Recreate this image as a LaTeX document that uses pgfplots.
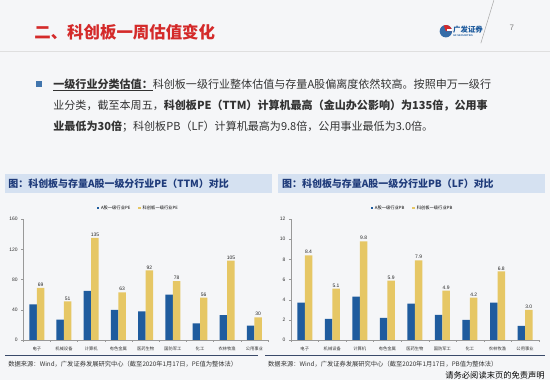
\documentclass[border=0pt]{standalone}
\usepackage{fontspec}
\setmainfont{Noto Sans CJK SC}
\newfontfamily\arialf{Liberation Sans}
\usepackage{pgfplots}
\pgfplotsset{compat=1.18}
\definecolor{bg}{HTML}{F5F6F8}
\definecolor{bblue}{HTML}{1F5C9E}
\definecolor{byel}{HTML}{E6C765}
\definecolor{hred}{HTML}{D42A2A}
\definecolor{capbg}{HTML}{D5E1F1}
\definecolor{captx}{HTML}{1F3B7A}
\definecolor{txt}{HTML}{333333}
\definecolor{srcline}{HTML}{3A4A6A}
\pgfplotsset{
  mybar/.style={
    width=245bp, height=121bp, scale only axis,
    ybar=0pt, bar width=7.5bp,
    xmin=-0.5, xmax=8.5, ymin=0,
    axis x line*=bottom, axis y line*=left,
    axis line style={draw=gray!80, line width=0.4pt},
    xtick={0,...,8},
    xticklabels={电子,机械设备,计算机,有色金属,医药生物,国防军工,化工,农林牧渔,公用事业},
    x tick label style={font=\fontsize{4.3}{5}\selectfont, text=black!80, yshift=-1bp},
    major x tick style={draw=none},
    minor xtick={-0.5,0.5,...,8.5},
    minor x tick style={draw=gray!80, line width=0.3pt},
    minor tick length=2bp,
    tick align=outside,
    major tick length=2bp,
    ytick style={draw=gray!80, line width=0.3pt},
    y tick label style={font=\arialf\fontsize{5}{6}\selectfont, text=black!80},
    /pgf/number format/assume math mode=true,
    legend style={draw=none, fill=none, font=\fontsize{4.3}{5}\selectfont, legend columns=2,
      /tikz/every even column/.append style={column sep=6bp}},
    legend image code/.code={\fill[#1] (0bp,-1.2bp) rectangle (2.4bp,1.2bp);},
    nodes near coords style={font=\arialf\fontsize{5}{6}\selectfont, text=black!85, inner sep=1.2bp},
  }
}
\begin{document}
\begin{tikzpicture}[x=1bp,y=1bp]
\fill[bg] (0,0) rectangle (550,380);
% header
\node[anchor=west, text=hred, font=\bfseries\fontsize{16.5}{17}\selectfont, inner sep=0] at (34,348) {二、科创板一周估值变化};
\draw[gray!25, line width=0.4pt] (0,329) -- (550,329);
% logo
\fill[bblue!90] (446,349) circle (6.2);
\fill[hred] (446,349) ++(0:6.2) arc (0:110:6.2) -- (446,349) -- cycle;
\fill[white] (447,349.5) rectangle (452,351.5);
\node[anchor=west, text=bblue, font=\bfseries\fontsize{7.5}{8}\selectfont, inner sep=0] at (453,351) {广发证券};
\node[anchor=west, text=bblue, font=\arialf\bfseries\fontsize{2.6}{3}\selectfont, inner sep=0] at (453,344.5) {GF SECURITIES};
\draw[gray!70, line width=0.5pt] (481,337) -- (494,380);
\node[text=gray, font=\arialf\fontsize{8}{9}\selectfont] at (512,352) {7};
% bullet
\fill[bblue!85] (36,293) rectangle (42,299);
\begin{scope}[every node/.style={anchor=base west, inner sep=0, text=txt, font=\fontsize{11.1}{12}\selectfont}]
\node at (53,292) {\textbf{\underline{一级行业分类估值：}}科创板一级行业整体估值与存量A股偏离度依然较高。按照申万一级行};
\node at (53,271) {业分类，截至本周五，\textbf{科创板PE（TTM）计算机最高（金山办公影响）为135倍，公用事}};
\node at (53,250) {\textbf{业最低为30倍}；科创板PB（LF）计算机最高为9.8倍，公用事业最低为3.0倍。};
\end{scope}
% caption bands
\fill[capbg] (5,187) rectangle (272,206);
\fill[capbg] (278,187) rectangle (545,206);
\node[anchor=west, text=captx, font=\bfseries\fontsize{10}{11}\selectfont, inner sep=0] at (8,196.5) {图：科创板与存量A股一级分行业PE（TTM）对比};
\node[anchor=west, text=captx, font=\bfseries\fontsize{10}{11}\selectfont, inner sep=0] at (282,196.5) {图：科创板与存量A股一级分行业PB（LF）对比};
% left chart
\begin{axis}[mybar, at={(23bp,40bp)}, anchor=south west,
  ymax=160, ytick={0,40,80,120,160},
  legend style={at={(0.47,1.09)}, anchor=center}]
\addplot[fill=bblue, draw=none] coordinates {(0,47) (1,27) (2,65) (3,40) (4,38) (5,60) (6,22) (7,33) (8,19)};
\addlegendentry{A股一级行业PE}
\addplot[fill=byel, draw=none, nodes near coords] coordinates {(0,69) (1,51) (2,135) (3,63) (4,92) (5,78) (6,56) (7,105) (8,30)};
\addlegendentry{科创板一级行业PE}
\end{axis}
% right chart
\begin{axis}[mybar, at={(291bp,40bp)}, anchor=south west, width=248bp,
  ymax=12, ytick={0,2,...,12},
  legend style={at={(0.49,1.09)}, anchor=center}]
\addplot[fill=bblue, draw=none] coordinates {(0,3.7) (1,2.1) (2,4.3) (3,2.2) (4,3.6) (5,2.5) (6,2.0) (7,3.7) (8,1.4)};
\addlegendentry{A股一级行业PB}
\addplot[fill=byel, draw=none, nodes near coords, point meta=explicit symbolic] coordinates {(0,8.4)[8.4] (1,5.1)[5.1] (2,9.8)[9.8] (3,5.9)[5.9] (4,7.9)[7.9] (5,4.9)[4.9] (6,4.2)[4.2] (7,6.8)[6.8] (8,3.0)[3.0]};
\addlegendentry{科创板一级行业PB}
\end{axis}
% sources
\draw[srcline, line width=0.8pt] (5,25) -- (258,25);
\draw[srcline, line width=0.8pt] (265,25) -- (545,25);
\node[anchor=west, text=txt, font=\fontsize{6.3}{7}\selectfont, inner sep=0] at (8,16) {数据来源：Wind，广发证券发展研究中心（截至2020年1月17日，PE值为整体法）};
\node[anchor=west, text=txt, font=\fontsize{6.3}{7}\selectfont, inner sep=0] at (268,16) {数据来源：Wind，广发证券发展研究中心（截至2020年1月17日，PB值为整体法）};
\node[anchor=east, text=black, font=\fontsize{8.3}{9}\selectfont, inner sep=0] at (545,5) {请务必阅读末页的免责声明};
\end{tikzpicture}
\end{document}
